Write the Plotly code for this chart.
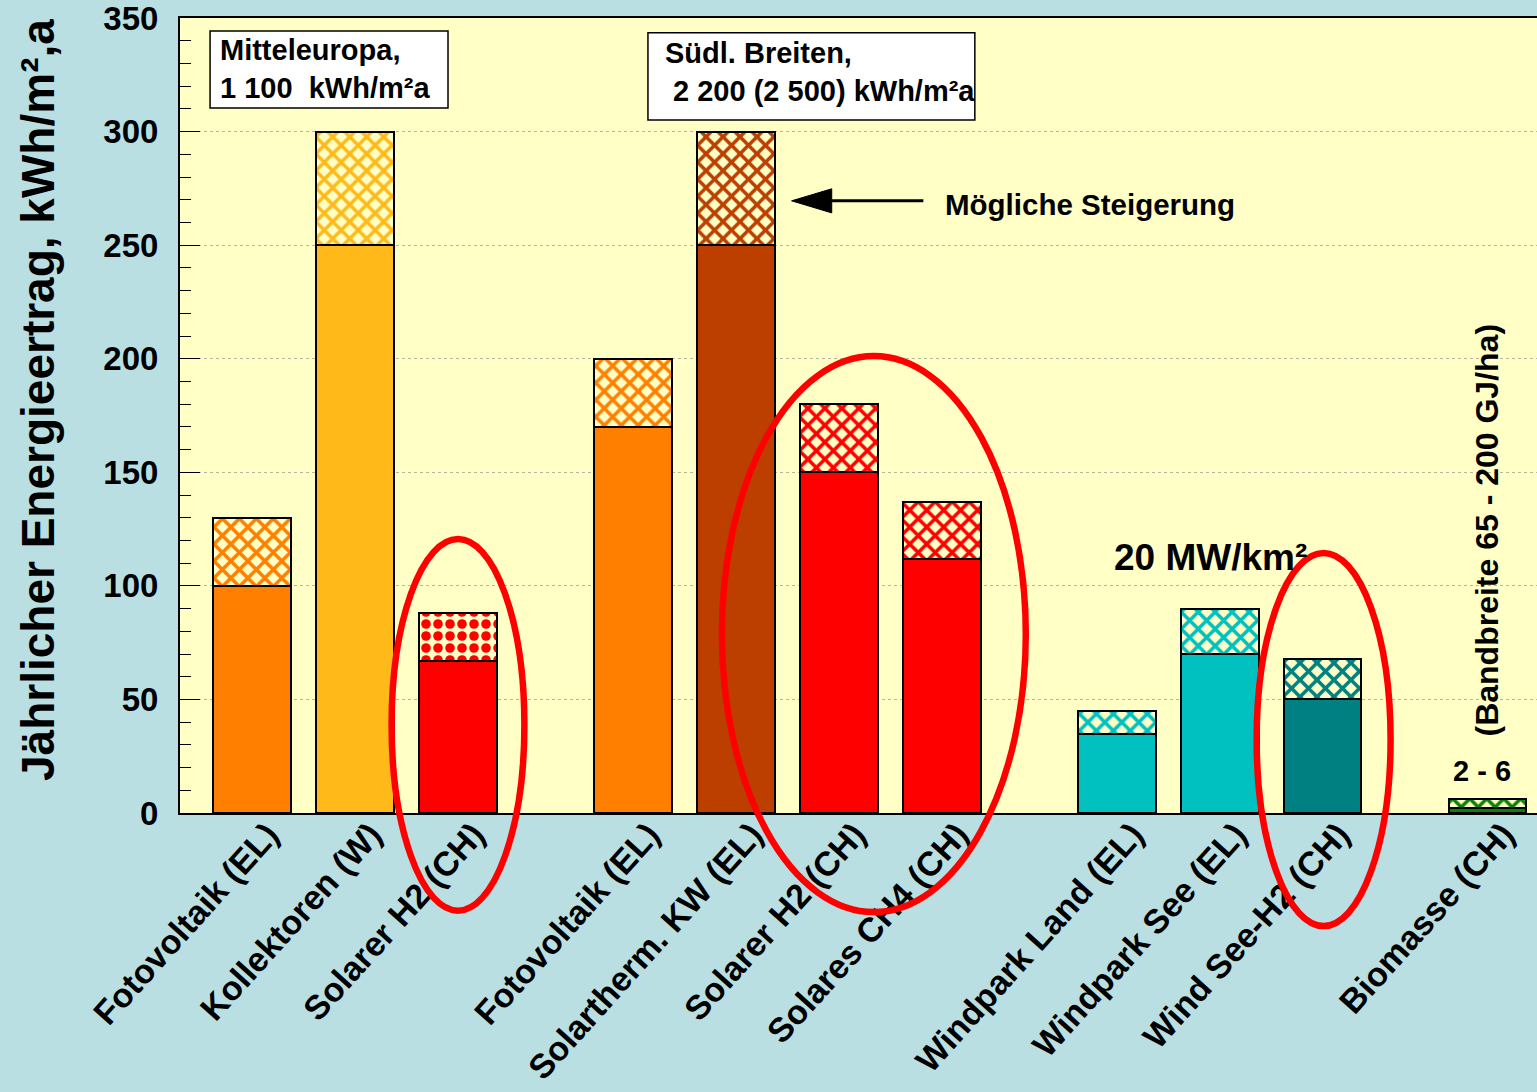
import plotly.graph_objects as go

# ---- data ---------------------------------------------------------------
categories = [
    "Fotovoltaik (EL)", "Kollektoren (W)", "Solarer H2 (CH)",
    "Fotovoltaik (EL)", "Solartherm. KW (EL)", "Solarer H2 (CH)", "Solares CH4 (CH)",
    "Windpark Land (EL)", "Windpark See (EL)", "Wind See-H2 (CH)",
    "Biomasse (CH)",
]
# site group of each bar: Mitteleuropa, südl. Breiten, Wind, Biomasse
group = [0, 0, 0, 1, 1, 1, 1, 2, 2, 2, 3]
ertrag_heute = [100, 250, 67, 170, 250, 150, 112, 35, 70, 50, 2]
ertrag_max = [130, 300, 88, 200, 300, 180, 137, 45, 90, 68, 6]
steigerung = [m - h for m, h in zip(ertrag_max, ertrag_heute)]
y_ticks = [0, 50, 100, 150, 200, 250, 300, 350]

# ---- styling ------------------------------------------------------------
FONT = "Arial, 'Liberation Sans', sans-serif"
BG_OUT = "#B9DFE3"
BG_PLOT = "#FFFFC6"
colors = ["#FF8000", "#FFBA1A", "#FF0000",
          "#FF8000", "#BC3F00", "#FF0000", "#FF0000",
          "#00C0C0", "#00C0C0", "#008080",
          "#0A800A"]
patterns = ["x", "x", ".", "x", "x", "x", "x", "x", "x", "x", "x"]
group_offset = [0.0, 0.7, 1.4, 2.0]
xpos = [i + group_offset[g] for i, g in enumerate(group)]
BAR_W = 0.75
X_RANGE = [-0.7, 12.48]
Y_RANGE = [0, 350]


def dom_x(v):
    return (v - X_RANGE[0]) / (X_RANGE[1] - X_RANGE[0])


def dom_y(v):
    return (v - Y_RANGE[0]) / (Y_RANGE[1] - Y_RANGE[0])


def bold(size):
    return dict(family=FONT, size=size, color="black", weight="bold")


fig = go.Figure()

# present yield
fig.add_trace(go.Bar(
    x=xpos, y=ertrag_heute, width=BAR_W,
    marker=dict(color=colors, line=dict(color="black", width=2)),
    showlegend=False, hoverinfo="skip",
))
# possible increase (patterned)
fig.add_trace(go.Bar(
    x=xpos, y=steigerung, width=BAR_W,
    marker=dict(
        color=colors,
        line=dict(color="black", width=2),
        pattern=dict(shape=patterns, fillmode="replace", bgcolor=colors,
                     fgcolor="white", size=12, solidity=0.5),
    ),
    showlegend=False, hoverinfo="skip",
))

shapes = []
annotations = []

# info boxes
for (x0, x1, y0, y1) in [(-0.408, 1.903, 310.4, 344.3), (3.845, 7.02, 305.1, 343.5)]:
    shapes.append(dict(type="rect", xref="x", yref="y", x0=x0, x1=x1, y0=y0, y1=y1,
                       fillcolor="white", line=dict(color="black", width=1.5), layer="above"))
annotations.append(dict(x=-0.33, y=327.6, xref="x", yref="y", xanchor="left", yanchor="middle",
                        align="left", showarrow=False,
                        text="Mitteleuropa,<br>1 100\u00a0\u00a0kWh/m²a", font=bold(29)))
annotations.append(dict(x=3.99, y=326.3, xref="x", yref="y", xanchor="left", yanchor="middle",
                        align="left", showarrow=False,
                        text="Südl. Breiten,<br>\u00a02 200 (2 500) kWh/m²a", font=bold(29)))

# arrow pointing to the increase of the solar thermal plant
shapes.append(dict(type="line", xref="x", yref="y", x0=5.55, x1=6.52, y0=269.5, y1=269.5,
                   line=dict(color="black", width=3), layer="above"))
shapes.append(dict(type="path", xref="x", yref="y",
                   path="M 5.24 269.5 L 5.63 274.8 L 5.63 264.2 Z",
                   fillcolor="black", line=dict(color="black", width=1), layer="above"))
annotations.append(dict(x=6.71, y=268.0, xref="x", yref="y", xanchor="left", yanchor="middle",
                        showarrow=False, text="Mögliche Steigerung", font=bold(29.5)))

annotations.append(dict(x=9.31, y=112.7, xref="x", yref="y", xanchor="center", yanchor="middle",
                        showarrow=False, text="20 MW/km²", font=bold(37)))
annotations.append(dict(x=11.95, y=18.5, xref="x", yref="y", xanchor="center", yanchor="middle",
                        showarrow=False, text="2 - 6", font=bold(29)))
annotations.append(dict(x=11.99, y=124.6, xref="x", yref="y", xanchor="center", yanchor="middle",
                        showarrow=False, textangle=-90, text="(Bandbreite 65 - 200 GJ/ha)",
                        font=bold(32)))

# y-axis title
annotations.append(dict(x=(38 - 180) / 1357, y=(813 - 400) / 795, xref="paper", yref="paper",
                        xanchor="center", yanchor="middle", showarrow=False, textangle=-90,
                        text="Jährlicher Energieertrag, kWh/m²,a", font=bold(46)))

# red ellipses highlighting the chemical energy carriers
for (x0, x1, y0, y1) in [(1.355, 2.645, -43.0, 120.6),
                         (4.563, 7.515, -43.6, 201.2),
                         (9.757, 11.058, -49.8, 114.5)]:
    shapes.append(dict(type="circle", xref="x domain", yref="y domain",
                       x0=dom_x(x0), x1=dom_x(x1), y0=dom_y(y0), y1=dom_y(y1),
                       line=dict(color="#FF0000", width=6.5), layer="above"))

fig.update_layout(
    width=1537, height=1092,
    margin=dict(l=180, r=0, t=18, b=279, pad=0),
    paper_bgcolor=BG_OUT, plot_bgcolor=BG_PLOT,
    barmode="stack", bargap=0,
    shapes=shapes, annotations=annotations,
    font=dict(family=FONT, color="black"),
)
fig.update_xaxes(
    range=X_RANGE, tickmode="array", tickvals=xpos, ticktext=categories,
    tickangle=-48, tickfont=bold(34), ticklabelshift=16, ticklabelstandoff=-14,
    showgrid=False, zeroline=False, ticks="", showline=True, linecolor="black",
    linewidth=2, mirror=True,
)
fig.update_yaxes(
    range=Y_RANGE, tickmode="array", tickvals=y_ticks,
    tickfont=bold(33), ticklabeloverflow="allow",
    ticks="inside", ticklen=20, tickcolor="black", tickwidth=1,
    minor=dict(ticks="inside", ticklen=11, dtick=10, tickcolor="black", tickwidth=1, showgrid=False),
    ticklabelstandoff=13,
    showgrid=True, gridcolor="#B5B5A0", griddash="dot", gridwidth=1,
    zeroline=False, showline=True, linecolor="black", linewidth=2,
)

fig.write_html("out.html")
